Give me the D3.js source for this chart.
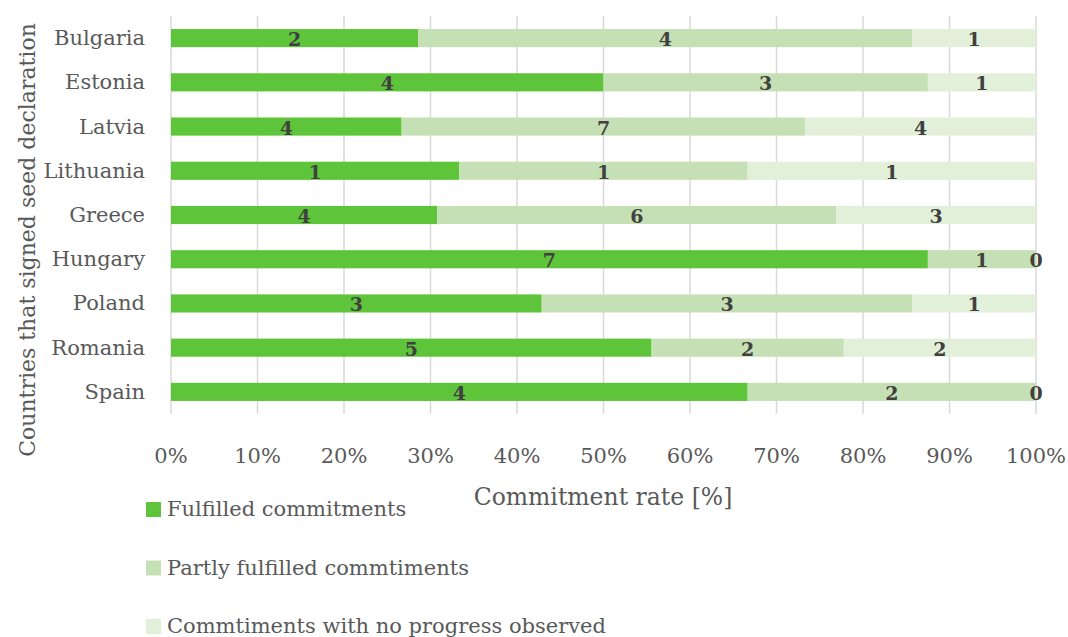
<!DOCTYPE html>
<html>
<head>
<meta charset="utf-8">
<script src="https://cdn.jsdelivr.net/npm/d3@7"></script>
<style>
  body { margin: 0; background: #fff; }
  svg { display: block; }
  text { font-family: "DejaVu Serif", "Liberation Serif", serif; }
</style>
</head>
<body>
<svg id="chart" width="1068" height="637"></svg>
<script>
// Countries (top to bottom) and commitment counts per status
const countries = ["Bulgaria", "Estonia", "Latvia", "Lithuania", "Greece", "Hungary", "Poland", "Romania", "Spain"];
const fulfilled = [2, 4, 4, 1, 4, 7, 3, 5, 4];
const partly    = [4, 3, 7, 1, 6, 1, 3, 2, 2];
const noProgress = [1, 1, 4, 1, 3, 0, 1, 2, 0];
const seriesNames = ["Fulfilled commitments", "Partly fulfilled commtiments", "Commtiments with no progress observed"];
const seriesColors = ["#5ec53b", "#c5e0b4", "#e2f0d9"];
const xTicks = [0, 0.1, 0.2, 0.3, 0.4, 0.5, 0.6, 0.7, 0.8, 0.9, 1];

const keys = ["f", "p", "n"];
const rows = countries.map((c, i) => ({ country: c, f: fulfilled[i], p: partly[i], n: noProgress[i] }));
const stacked = d3.stack().keys(keys).offset(d3.stackOffsetExpand)(rows);

const svg = d3.select("#chart");
const plotLeft = 171, plotRight = 1036, plotTop = 16, plotBottom = 414;

const x = d3.scaleLinear().domain([0, 1]).range([plotLeft, plotRight]);
const y = d3.scaleBand().domain(countries).range([plotTop, plotBottom]).paddingInner(0.59).paddingOuter(0.295);

// Vertical gridlines
svg.append("g").selectAll("line").data(xTicks).join("line")
  .attr("x1", d => x(d)).attr("x2", d => x(d))
  .attr("y1", plotTop).attr("y2", plotBottom)
  .attr("stroke", "#d9d9d9").attr("stroke-width", 1.5);

// Stacked bars
const layers = svg.append("g").selectAll("g").data(stacked).join("g")
  .attr("fill", (d, i) => seriesColors[i]);
layers.selectAll("rect").data(d => d).join("rect")
  .attr("x", d => x(d[0]))
  .attr("width", d => x(d[1]) - x(d[0]))
  .attr("y", d => y(d.data.country))
  .attr("height", y.bandwidth());

// Value labels centred on each segment
const labels = svg.append("g");
stacked.forEach(layer => {
  labels.selectAll(null).data(layer).join("text")
    .attr("x", d => x((d[0] + d[1]) / 2))
    .attr("y", d => y(d.data.country) + y.bandwidth() / 2 + 8)
    .attr("text-anchor", "middle")
    .attr("font-size", 19)
    .attr("font-weight", "bold")
    .attr("fill", "#404040")
    .text(d => d.data[layer.key]);
});

// Category labels
svg.append("g").selectAll("text").data(countries).join("text")
  .attr("x", 145)
  .attr("y", d => y(d) + y.bandwidth() / 2 + 7)
  .attr("text-anchor", "end")
  .attr("font-size", 21)
  .attr("fill", "#595959")
  .text(d => d);

// Percentage tick labels
svg.append("g").selectAll("text").data(xTicks).join("text")
  .attr("x", d => x(d))
  .attr("y", 463)
  .attr("text-anchor", "middle")
  .attr("font-size", 21)
  .attr("fill", "#595959")
  .text(d => d3.format(".0%")(d));

// Axis titles
svg.append("text")
  .attr("x", 603).attr("y", 505)
  .attr("text-anchor", "middle")
  .attr("font-size", 23.5)
  .attr("fill", "#595959")
  .text("Commitment rate [%]");

svg.append("text")
  .attr("transform", "translate(35,240) rotate(-90)")
  .attr("text-anchor", "middle")
  .attr("font-size", 22)
  .attr("fill", "#595959")
  .text("Countries that signed seed declaration");

// Legend
const legend = svg.append("g").selectAll("g").data(seriesNames).join("g")
  .attr("transform", (d, i) => `translate(146, ${509 + i * 58.5})`);
legend.append("rect")
  .attr("x", 0).attr("y", -7).attr("width", 15).attr("height", 15)
  .attr("fill", (d, i) => seriesColors[i]);
legend.append("text")
  .attr("x", 21).attr("y", 7)
  .attr("font-size", 21)
  .attr("fill", "#595959")
  .text(d => d);
</script>
</body>
</html>
